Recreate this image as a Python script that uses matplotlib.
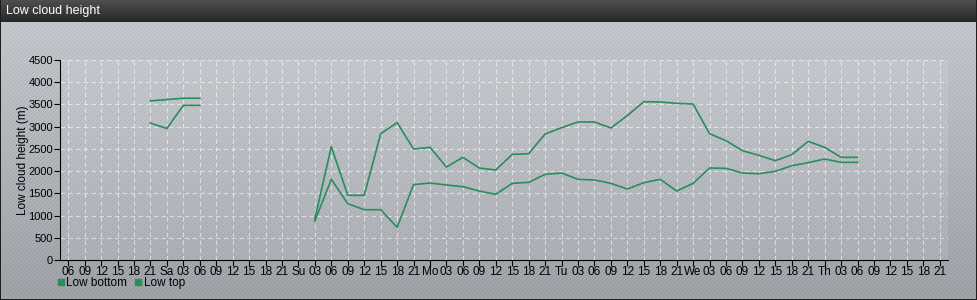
import numpy as np
import matplotlib
matplotlib.use("Agg")
import matplotlib.pyplot as plt
from matplotlib.lines import Line2D

plt.rcParams['font.family'] = ['Liberation Sans', 'DejaVu Sans']

# hours counted from Friday 00:00, one value every 3 hours
hours = list(range(21, 151, 3))
nan = np.nan
low_top = [3580, 3610, 3640, 3640,
           nan, nan, nan, nan, nan, nan,
           930, 2550, 1455, 1455, 2842, 3090, 2497, 2535, 2092, 2310,
           2070, 2025, 2377, 2392, 2835, 2977, 3105, 3105, 2970, 3250,
           3562, 3555, 3525, 3510, 2842, 2685, 2460, 2355, 2235, 2370,
           2670, 2535, 2310, 2310]
low_bottom = [3080, 2960, 3480, 3480,
              nan, nan, nan, nan, nan, nan,
              880, 1815, 1267, 1132, 1132, 735, 1695, 1732, 1687, 1650,
              1552, 1477, 1725, 1747, 1927, 1957, 1815, 1800, 1725, 1597,
              1740, 1815, 1552, 1725, 2070, 2062, 1957, 1942, 1995, 2122,
              2190, 2272, 2197, 2197]
days = ['Fr', 'Sa', 'Su', 'Mo', 'Tu', 'We', 'Th']
tick_hours = list(range(6, 166, 3))
tick_labels = [days[h // 24] if h % 24 == 0 else '%02d' % (h % 24) for h in tick_hours]

green = '#2a8d5c'
W, H = 978, 300

fig = plt.figure(figsize=(W / 100, H / 100), dpi=100)

# background: gradient + diagonal stripes, dark title bar, border
yy, xx = np.mgrid[0:H, 0:W]
t = yy / H
base = np.stack([203 - 40 * t, 207 - 40 * t, 212 - 40 * t], axis=-1)
stripe = ((xx + yy) % 4 < 1.5)
base[stripe] -= 12
bar = yy < 22
tb = (yy / 22.0)
for c in range(3):
    ch = base[..., c]
    ch[bar] = (78 - 40 * tb)[bar]
    base[..., c] = ch
border = (xx < 1) | (xx > W - 3) | (yy > H - 2)
base[border] = 30
bg = fig.add_axes([0, 0, 1, 1])
bg.imshow(np.clip(base, 0, 255).astype(np.uint8), aspect='auto', interpolation='nearest')
bg.axis('off')

fig.text(6 / W, 1 - 11 / H, 'Low cloud height', color='white', fontsize=9, va='center', ha='left')

ax = fig.add_axes([60 / W, 40 / H, 888 / W, 200 / H])
ax.set_facecolor((1, 1, 1, 0.10))
ax.plot(hours, low_bottom, color=green, lw=1.2)
ax.plot(hours, low_top, color=green, lw=1.2)

ax.set_xlim(4.5, 166.5)
ax.set_ylim(0, 4500)
ax.set_yticks(range(0, 4501, 500))
ax.set_xticks(tick_hours)
ax.set_xticklabels(tick_labels)
ax.tick_params(labelsize=8.5, length=4, width=0.8, pad=1, colors='black')
ax.tick_params(axis='x', pad=0)
ax.tick_params(axis='y', labelsize=8)
ax.grid(True, color='white', alpha=0.55, lw=0.8, ls=(0, (4, 3)))
for s in ['top', 'right']:
    ax.spines[s].set_visible(False)
ax.set_ylabel('Low cloud height (m)', fontsize=8.5)
ax.yaxis.set_label_coords(-31 / 888, 0.5)

handles = [Line2D([], [], ls='none', marker='s', ms=5, color=green),
           Line2D([], [], ls='none', marker='s', ms=5, color=green)]
fig.legend(handles, ['Low bottom', 'Low top'], loc='center left',
           bbox_to_anchor=(57 / W, 1 - 283 / H), ncol=2, frameon=False,
           fontsize=8.5, handlelength=0.6, handletextpad=0.2, columnspacing=0.6,
           borderaxespad=0, borderpad=0)

fig.savefig('out.png', dpi=100)
